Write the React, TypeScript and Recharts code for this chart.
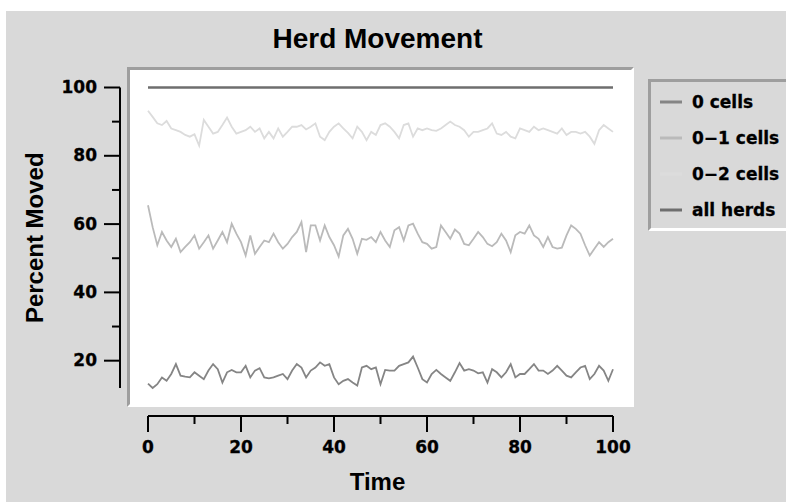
import { LineChart, Line, XAxis, YAxis, Legend } from 'recharts';

// Percent of herds moved per time step.
const time = Array.from({ length: 101 }, (_, i) => i);

const zeroCells = [
  13.3, 12.0, 13.1, 15.1, 14.1, 16.1, 19.0, 15.6, 15.3, 15.1,
  16.6, 15.6, 14.6, 17.1, 19.0, 17.5, 13.6, 16.6, 17.3, 16.6,
  16.6, 18.5, 15.1, 17.1, 17.8, 15.1, 14.8, 15.1, 15.6, 16.1,
  14.6, 17.1, 19.0, 18.0, 15.1, 17.1, 18.0, 19.5, 18.5, 19.0,
  15.1, 13.1, 14.1, 14.6, 13.6, 12.7, 18.0, 18.5, 17.5, 18.0,
  13.1, 17.3, 17.1, 17.1, 18.5, 19.0, 19.5, 21.2, 18.0, 14.6,
  13.6, 16.1, 17.3, 16.1, 15.1, 14.1, 16.6, 19.3, 17.1, 17.5,
  17.1, 16.3, 16.6, 13.6, 17.5, 16.6, 15.1, 16.6, 19.0, 15.1,
  16.1, 16.1, 17.5, 19.0, 17.1, 17.1, 16.1, 17.1, 18.5, 17.1,
  15.6, 15.1, 16.6, 18.0, 18.5, 14.6, 16.1, 18.5, 17.1, 14.1,
  17.5,
];

const oneCell = [
  65.5, 59.1, 53.8, 57.7, 55.2, 53.3, 55.7, 51.8, 53.3, 54.7,
  56.7, 52.8, 54.7, 56.7, 52.8, 55.2, 57.7, 54.7, 60.1, 57.2,
  54.7, 50.8, 56.7, 51.3, 53.3, 55.2, 54.7, 57.2, 54.7, 52.8,
  54.2, 56.2, 57.7, 60.6, 51.8, 59.6, 59.6, 55.2, 59.6, 56.2,
  53.8, 50.5, 56.7, 58.6, 55.7, 51.3, 55.7, 55.4, 56.2, 54.7,
  57.7, 55.2, 53.3, 58.2, 59.1, 55.2, 59.6, 60.1, 57.2, 54.7,
  54.2, 52.8, 53.3, 59.6, 57.7, 55.7, 58.4, 57.2, 54.2, 53.8,
  55.7, 57.7, 56.2, 54.2, 53.5, 54.7, 57.2, 55.2, 51.8, 56.7,
  57.7, 57.2, 59.6, 56.7, 55.7, 53.3, 56.2, 53.3, 52.8, 53.1,
  56.7, 59.6, 58.6, 57.2, 53.8, 50.8, 52.8, 54.7, 53.3, 54.7,
  55.7,
];

const twoCells = [
  93.2, 91.4, 89.5, 89.0, 90.2, 88.0, 87.5, 87.0, 86.1, 85.6,
  86.3, 83.0, 90.5, 88.5, 86.5, 87.0, 89.0, 91.2, 88.5, 86.5,
  87.0, 87.5, 88.5, 87.0, 88.0, 85.1, 87.0, 85.1, 88.0, 85.6,
  87.0, 88.5, 88.5, 89.0, 87.7, 88.5, 89.5, 85.6, 84.6, 87.0,
  88.5, 89.5, 88.0, 86.7, 85.1, 88.5, 87.0, 84.6, 87.0, 86.1,
  89.0, 89.5, 88.5, 87.0, 85.1, 89.0, 89.5, 85.6, 88.0, 87.5,
  88.0, 87.5, 87.3, 88.0, 89.0, 90.0, 89.0, 88.5, 87.5, 85.6,
  87.0, 87.0, 87.5, 88.0, 89.5, 86.5, 86.1, 87.0, 85.6, 85.1,
  88.0, 87.5, 87.0, 88.5, 87.5, 88.0, 87.5, 87.0, 86.5, 88.0,
  86.1, 87.0, 87.0, 86.5, 87.0, 85.6, 83.5, 87.5, 89.0, 88.0,
  87.0,
];

const allHerds = [
  100, 100, 100, 100, 100, 100, 100, 100, 100, 100,
  100, 100, 100, 100, 100, 100, 100, 100, 100, 100,
  100, 100, 100, 100, 100, 100, 100, 100, 100, 100,
  100, 100, 100, 100, 100, 100, 100, 100, 100, 100,
  100, 100, 100, 100, 100, 100, 100, 100, 100, 100,
  100, 100, 100, 100, 100, 100, 100, 100, 100, 100,
  100, 100, 100, 100, 100, 100, 100, 100, 100, 100,
  100, 100, 100, 100, 100, 100, 100, 100, 100, 100,
  100, 100, 100, 100, 100, 100, 100, 100, 100, 100,
  100, 100, 100, 100, 100, 100, 100, 100, 100, 100,
  100,
];

const xTicks = [0, 10, 20, 30, 40, 50, 60, 70, 80, 90, 100];
const yTicks = [20, 30, 40, 50, 60, 70, 80, 90, 100];

const data = time.map((t, i) => ({
  t,
  zero: zeroCells[i],
  one: oneCell[i],
  two: twoCells[i],
  all: allHerds[i],
}));

const BG = '#d9d9d9';
const SHADOW = '#9e9e9e';
const TICK_FONT = { fontFamily: 'DejaVu Sans', fontWeight: 700, fontSize: 17 };
const TITLE_FONT = 'Liberation Sans';

function XTick(props: any) {
  const { x, y, payload } = props;
  const major = payload.value % 20 === 0;
  return (
    <g>
      <line x1={x} x2={x} y1={y} y2={y + (major ? 16 : 8)} stroke="#000" strokeWidth={2} />
      {major && (
        <text x={x} y={y + 37} textAnchor="middle" fill="#000" stroke="#000" strokeWidth={0.3} style={TICK_FONT}>
          {payload.value}
        </text>
      )}
    </g>
  );
}

function YTick(props: any) {
  const { x, y, payload } = props;
  const major = payload.value % 20 === 0;
  return (
    <g>
      <line x1={x - (major ? 16 : 8)} x2={x} y1={y} y2={y} stroke="#000" strokeWidth={2} />
      {major && (
        <text x={x - 23} y={y + 5.5} textAnchor="end" fill="#000" stroke="#000" strokeWidth={0.3} style={TICK_FONT}>
          {payload.value}
        </text>
      )}
    </g>
  );
}

function LegendBox({ payload }: any) {
  const rows = payload ?? [];
  return (
    <div
      style={{
        width: 170,
        height: 152,
        boxSizing: 'border-box',
        borderLeft: `3px solid ${SHADOW}`,
        borderTop: `3px solid ${SHADOW}`,
        borderBottom: '3px solid #fff',
        background: BG,
      }}
    >
      <svg width={167} height={146} style={{ display: 'block' }}>
        {rows.map((entry: any, i: number) => {
          const cy = 20 + i * 36;
          return (
            <g key={entry.value}>
              <line x1={9} x2={31} y1={cy} y2={cy} stroke={entry.color} strokeWidth={3} />
              <text x={41} y={cy + 6} fill="#000" stroke="#000" strokeWidth={0.3} style={TICK_FONT}>
                {entry.value}
              </text>
            </g>
          );
        })}
      </svg>
    </div>
  );
}

export default function App() {
  return (
    <div style={{ position: 'absolute', left: 0, top: 0, width: 786, height: 502, background: '#fff', overflow: 'hidden' }}>
      <div style={{ position: 'absolute', left: 6, top: 11, width: 780, height: 491, background: BG }} />
      <div
        style={{
          position: 'absolute',
          left: 127,
          top: 67,
          width: 507,
          height: 340,
          boxSizing: 'border-box',
          background: '#fff',
          borderLeft: `3px solid ${SHADOW}`,
          borderTop: `3px solid ${SHADOW}`,
          borderRight: '3px solid #fff',
          borderBottom: '3px solid #fff',
        }}
      />
      <svg width={786} height={70} style={{ position: 'absolute', left: 0, top: 0 }}>
        <text
          x={377.5}
          y={48.3}
          textAnchor="middle"
          fill="#000"
          style={{ fontFamily: TITLE_FONT, fontWeight: 700, fontSize: 28 }}
        >
          Herd Movement
        </text>
      </svg>
      <div style={{ position: 'absolute', left: 0, top: 0 }}>
        <LineChart width={786} height={502} data={data} margin={{ top: 87.5, right: 173, bottom: 0, left: 0 }}>
          {/* spacer axes push the drawn axes away from the plot panel */}
          <XAxis xAxisId="gap" dataKey="t" type="number" domain={[0, 100]} height={28} axisLine={false} tickLine={false} tick={false} />
          <XAxis
            xAxisId="main"
            dataKey="t"
            type="number"
            domain={[0, 100]}
            ticks={xTicks}
            interval={0}
            height={86}
            tickSize={0}
            tickMargin={0}
            tickLine={false}
            axisLine={{ stroke: '#000', strokeWidth: 2 }}
            tick={<XTick />}
            label={{
              value: 'Time',
              position: 'insideBottom',
              offset: 12,
              dx: -3,
              fill: '#000',
              style: { fontFamily: TITLE_FONT, fontWeight: 700, fontSize: 24, fill: '#000' },
            }}
          />
          <YAxis yAxisId="gap" type="number" domain={['dataMin', 100]} width={28} axisLine={false} tickLine={false} tick={false} />
          <YAxis
            yAxisId="main"
            type="number"
            domain={['dataMin', 100]}
            ticks={yTicks}
            interval={0}
            width={120}
            tickSize={0}
            tickMargin={0}
            tickLine={false}
            axisLine={{ stroke: '#000', strokeWidth: 2 }}
            tick={<YTick />}
            label={{
              value: 'Percent Moved',
              angle: -90,
              position: 'insideLeft',
              offset: 34.5,
              fill: '#000',
              style: { textAnchor: 'middle', fontFamily: TITLE_FONT, fontWeight: 700, fontSize: 24, fill: '#000' },
            }}
          />
          <Legend
            layout="vertical"
            align="center"
            verticalAlign="middle"
            wrapperStyle={{ position: 'absolute', left: 648, top: 79, width: 170, height: 152 }}
            content={<LegendBox />}
          />
          <Line xAxisId="main" yAxisId="main" dataKey="zero" name="0 cells" stroke="#858585" strokeWidth={1.8} dot={false} isAnimationActive={false} />
          <Line xAxisId="main" yAxisId="main" dataKey="one" name="0−1 cells" stroke="#bababa" strokeWidth={1.8} dot={false} isAnimationActive={false} />
          <Line xAxisId="main" yAxisId="main" dataKey="two" name="0−2 cells" stroke="#dcdcdc" strokeWidth={1.8} dot={false} isAnimationActive={false} />
          <Line xAxisId="main" yAxisId="main" dataKey="all" name="all herds" stroke="#6e6e6e" strokeWidth={2.5} dot={false} isAnimationActive={false} />
        </LineChart>
      </div>
    </div>
  );
}
